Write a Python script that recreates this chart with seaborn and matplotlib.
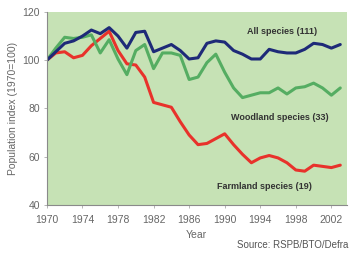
import pandas as pd
import matplotlib
matplotlib.use("Agg")
import matplotlib.pyplot as plt
import seaborn as sns

sns.set_theme(style="white")
plt.rcParams['font.family'] = ['Liberation Sans', 'DejaVu Sans']

years = list(range(1970, 2004))
all_species = [100, 103.5, 107, 108, 110, 112.5, 111, 113.5, 110, 105, 111.5, 112,
               103.5, 105, 106.5, 104, 100.5, 101, 107, 108, 107.5, 104, 102.5, 100.5,
               100.5, 104.5, 103.5, 103, 103, 104.5, 107, 106.5, 105, 106.5]
woodland = [100, 105, 109.5, 109, 109.5, 110.5, 103, 108.5, 100.5, 94, 104, 106.5,
            96.5, 103, 103, 102, 92, 93, 99, 102.5, 95, 88.5, 84.5, 85.5,
            86.5, 86.5, 88.5, 86, 88.5, 89, 90.5, 88.5, 85.5, 88.5]
farmland = [100, 103, 103.5, 101, 102, 106, 109, 112, 104, 98.5, 98, 93,
            82.5, 81.5, 80.5, 74.5, 69, 65, 65.5, 67.5, 69.5, 65, 61, 57.5,
            59.5, 60.5, 59.5, 57.5, 54.5, 54, 56.5, 56, 55.5, 56.5]

series = ["All species (111)", "Woodland species (33)", "Farmland species (19)"]
colors = ["#1e2a78", "#55ad62", "#e8322b"]
xticks = list(range(1970, 2003, 4))
yticks = [40, 60, 80, 100, 120]

df = pd.DataFrame({"Year": years, series[0]: all_species,
                   series[1]: woodland, series[2]: farmland})
long = df.melt(id_vars="Year", var_name="series", value_name="index")

fig = plt.figure(figsize=(3.5, 2.54), dpi=100)
ax = fig.add_axes([0.134, 0.193, 0.856, 0.760])
ax.set_facecolor("#c6e2b5")

sns.lineplot(data=long, x="Year", y="index", hue="series", hue_order=series[::-1],
             palette=dict(zip(series, colors)), linewidth=2.2, legend=False, ax=ax)

ax.set_xlim(1970, 2003.7)
ax.set_ylim(40, 120)
ax.set_xticks(xticks)
ax.set_yticks(yticks)
ax.tick_params(axis="both", labelsize=7.5, labelcolor="#666666", color="#aaaaaa",
               length=2, width=0.6, direction="out", bottom=True, left=True, pad=3)
ax.tick_params(axis="x", pad=5)
for s in ["top", "right"]:
    ax.spines[s].set_visible(False)
for s in ["left", "bottom"]:
    ax.spines[s].set_color("#8a8a8a")
    ax.spines[s].set_linewidth(0.8)

ax.set_xlabel("Year", fontsize=7.5, color="#666666", labelpad=4)
ax.set_ylabel("Population index (1970=100)", fontsize=7.5, color="#666666", labelpad=3)

label_pos = [(1996.4, 111.7), (1996.2, 76.2), (1994.5, 47.6)]
for name, (lx, ly) in zip(series, label_pos):
    ax.text(lx, ly, name, fontsize=6.5, fontweight="bold", color="#333333",
            ha="center", va="center")

fig.text(0.995, 0.035, "Source: RSPB/BTO/Defra", fontsize=7, color="#555555",
         ha="right", va="center")

fig.savefig("out.png", dpi=100)
